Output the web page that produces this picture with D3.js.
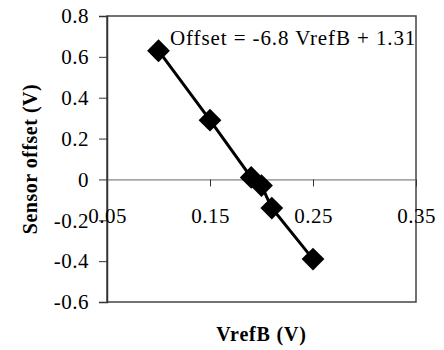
<!DOCTYPE html>
<html>
<head>
<meta charset="utf-8">
<script src="https://cdn.jsdelivr.net/npm/d3@7"></script>
<style>
  body { margin: 0; background: #fff; }
</style>
</head>
<body>
<svg id="chart"></svg>
<script>
// data
const vrefB = [0.10, 0.15, 0.19, 0.20, 0.21, 0.25];
const offset = [0.63, 0.29, 0.01, -0.03, -0.14, -0.39];
const xTicks = [0.05, 0.15, 0.25, 0.35];
const yTicks = [0.8, 0.6, 0.4, 0.2, 0, -0.2, -0.4, -0.6];
const fitLabel = 'Offset = -6.8 VrefB + 1.31';

const width = 444;
const height = 350;
const margin = { top: 16, right: 28, bottom: 48, left: 107 };
const serif = '"Liberation Serif", "Times New Roman", serif';

const svg = d3.select('#chart').attr('width', width).attr('height', height);

const xScale = d3.scaleLinear().domain([0.05, 0.35]).range([margin.left, width - margin.right]);
const yScale = d3.scaleLinear().domain([-0.6, 0.8]).range([height - margin.bottom, margin.top]);

// plain hyphen for negatives, like the original
const fmt = (d, p) => (d === 0 ? '0' : d.toFixed(p));

//plot frame
svg.append('rect')
  .attr('x', xScale(0.05))
  .attr('y', yScale(0.8))
  .attr('width', xScale(0.35) - xScale(0.05))
  .attr('height', yScale(-0.6) - yScale(0.8))
  .attr('fill', 'none')
  .attr('stroke', '#444')
  .attr('stroke-width', 1.5);

//y axis on the left
const yAxis = d3.axisLeft(yScale)
  .tickValues(yTicks)
  .tickSize(8)
  .tickPadding(10)
  .tickFormat((d) => fmt(d, 1));

const gy = svg.append('g')
  .attr('transform', `translate(${xScale(0.05)},0)`)
  .attr('font-family', serif)
  .call(yAxis);
gy.select('.domain').attr('stroke', '#333').attr('stroke-width', 1.5);
gy.selectAll('line').attr('stroke', '#333');
gy.selectAll('text')
  .style('font-family', serif)
  .style('font-size', '21px')
  .style('letter-spacing', '0.5px')
  .attr('fill', '#000');

//x axis sits on the zero line
const xAxis = d3.axisBottom(xScale)
  .tickValues(xTicks)
  .tickSize(7)
  .tickSizeOuter(0)
  .tickPadding(22)
  .tickFormat((d) => fmt(d, 2));

const gx = svg.append('g')
  .attr('transform', `translate(0,${yScale(0)})`)
  .attr('font-family', serif)
  .call(xAxis);
gx.select('.domain').attr('stroke', '#666').attr('stroke-width', 1);
gx.selectAll('line').attr('stroke', '#333');
gx.selectAll('text')
  .style('font-family', serif)
  .style('font-size', '21px')
  .style('letter-spacing', '0.5px')
  .attr('fill', '#000');

//data line
const points = vrefB.map((v, i) => ({ x: v, y: offset[i] }));
const line = d3.line().x((d) => xScale(d.x)).y((d) => yScale(d.y));

svg.append('path')
  .datum(points)
  .attr('fill', 'none')
  .attr('stroke', '#000')
  .attr('stroke-width', 3)
  .attr('d', line);

//diamond markers
const diamond = d3.symbol().type(d3.symbolSquare).size(260);
svg.selectAll('.marker')
  .data(points)
  .enter()
  .append('path')
  .attr('class', 'marker')
  .attr('d', diamond)
  .attr('transform', (d) => `translate(${xScale(d.x)},${yScale(d.y)}) rotate(45)`)
  .attr('fill', '#000');

//fit equation
svg.append('text')
  .attr('x', 170)
  .attr('y', 45)
  .style('font-family', serif)
  .style('font-size', '21px')
  .style('letter-spacing', '0.9px')
  .text(fitLabel);

//axis titles
svg.append('text')
  .attr('x', (xScale(0.05) + xScale(0.35)) / 2)
  .attr('y', 341)
  .attr('text-anchor', 'middle')
  .style('font-family', serif)
  .style('font-size', '20px')
  .style('font-weight', 'bold')
  .style('letter-spacing', '0.8px')
  .text('VrefB (V)');

svg.append('text')
  .attr('transform', `translate(37,${(yScale(0.8) + yScale(-0.6)) / 2}) rotate(-90)`)
  .attr('text-anchor', 'middle')
  .style('font-family', serif)
  .style('font-size', '20px')
  .style('font-weight', 'bold')
  .style('letter-spacing', '0.5px')
  .text('Sensor offset (V)');
</script>
</body>
</html>
